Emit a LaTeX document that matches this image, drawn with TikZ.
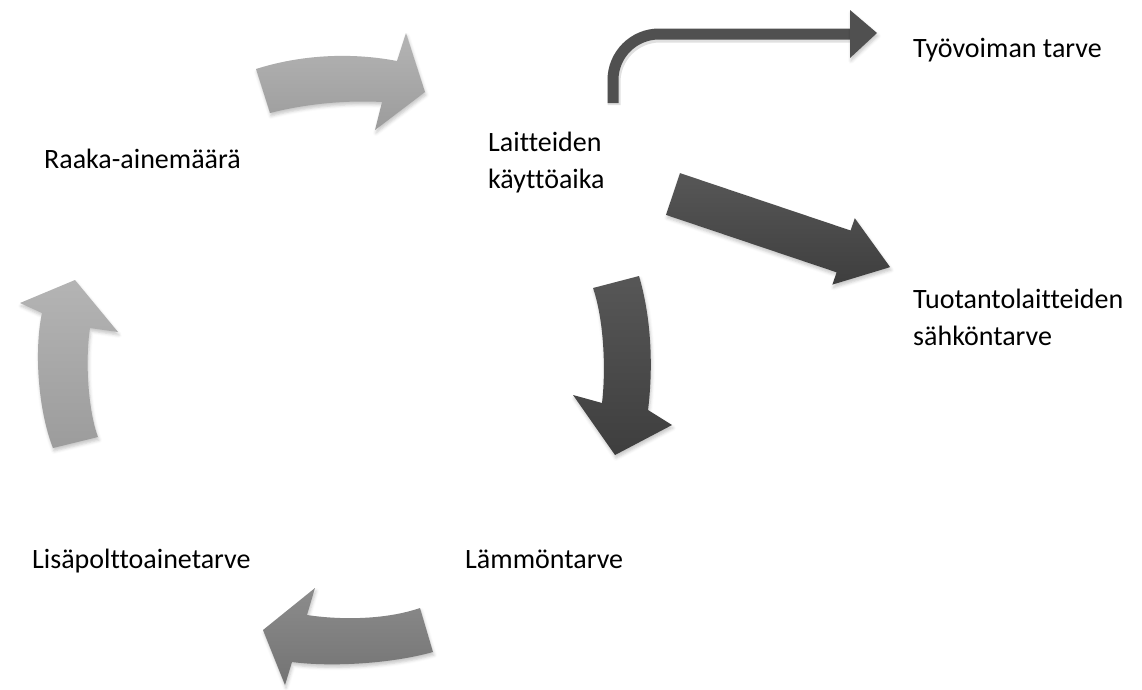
\documentclass[tikz,border=0pt]{standalone}
\usepackage{fontspec}
\setmainfont{Carlito}[Ligatures=NoCommon]
\usetikzlibrary{shadows.blur}
\definecolor{lightTop}{HTML}{B4B4B4}
\definecolor{lightBot}{HTML}{9C9C9C}
\definecolor{midTop}{HTML}{8C8C8C}
\definecolor{midBot}{HTML}{737373}
\definecolor{darkTop}{HTML}{575757}
\definecolor{darkBot}{HTML}{3E3E3E}
\definecolor{thinArrow}{HTML}{505050}
\begin{document}
\begin{tikzpicture}[x=1pt,y=-1pt,
  label/.style={inner sep=0pt, anchor=base west, align=left,
    font=\fontsize{28}{37}\selectfont, text=black},
  softshadow/.style={blur shadow={shadow xshift=1pt, shadow yshift=-3pt,
    shadow blur radius=3pt, shadow opacity=22}},
  lightarrow/.style={softshadow, top color=lightTop, bottom color=lightBot, draw=none},
  midarrow/.style={softshadow, top color=midTop, bottom color=midBot, draw=none},
  darkarrow/.style={softshadow, top color=darkTop, bottom color=darkBot, draw=none}]
\useasboundingbox (0,0) rectangle (1142,689);

% labels (two-line labels are anchored at the baseline of their last line)
\node[label] (raaka) at (44,168) {Raaka-ainemäärä};
\node[label] (laitteet) at (488,188) {Laitteiden\\käyttöaika};
\node[label] (tyovoima) at (913,57) {Työvoiman tarve};
\node[label] (sahko) at (913,345) {Tuotantolaitteiden\\sähköntarve};
\node[label] (lampo) at (465,568) {Lämmöntarve};
\node[label] (lisa) at (32,568) {Lisäpolttoainetarve};

% curved block arrow: raw material -> operating time
\path[lightarrow] (256,69) .. controls (300,55) and (350,52) .. (397,61)
  -- (406,33) -- (425,92) -- (375,130) -- (382,102)
  .. controls (345,100) and (305,104) .. (270,113) -- cycle;

% thin bent arrow: operating time -> labour demand
\coordinate (bendStart) at (613,103);
\coordinate (bendEnd) at (852,34);
\draw[black, opacity=0.12, line width=13pt, rounded corners=46pt]
  ([xshift=1pt,yshift=-2pt]bendStart) |- ([yshift=-2pt]bendEnd);
\draw[thinArrow, line width=11pt, rounded corners=46pt]
  (bendStart) |- (bendEnd);
\path[fill=thinArrow, softshadow] (850,10) -- (877,33) -- (850,58) -- cycle;

% straight block arrow: operating time -> electricity demand
\path[darkarrow] (680,173.1) -- (850.6,230.5) -- (854.8,218.2) -- (890.1,267.1)
  -- (832.4,284.6) -- (836.6,272.3) -- (666,214.9) -- cycle;

% curved block arrow: operating time -> heat demand
\path[darkarrow] (593,288) -- (639,276) .. controls (652,320) and (653,370) .. (648,410)
  -- (672,425) -- (615,455) -- (573,395) -- (602,403)
  .. controls (606,370) and (604,320) .. (593,288) -- cycle;

% curved block arrow: heat demand -> additional fuel demand
\path[midarrow] (420,608) .. controls (385,620) and (340,620) .. (307,615)
  -- (315,588) -- (263,630) -- (285,685) -- (292,662)
  .. controls (330,667) and (390,664) .. (433,652) -- cycle;

% curved block arrow: additional fuel demand -> raw material
\path[lightarrow] (53,448) .. controls (38,410) and (34,350) .. (42,313)
  -- (20,303) -- (75,280) -- (118,332) -- (90,328)
  .. controls (85,360) and (88,410) .. (98,437) -- cycle;
\end{tikzpicture}
\end{document}
